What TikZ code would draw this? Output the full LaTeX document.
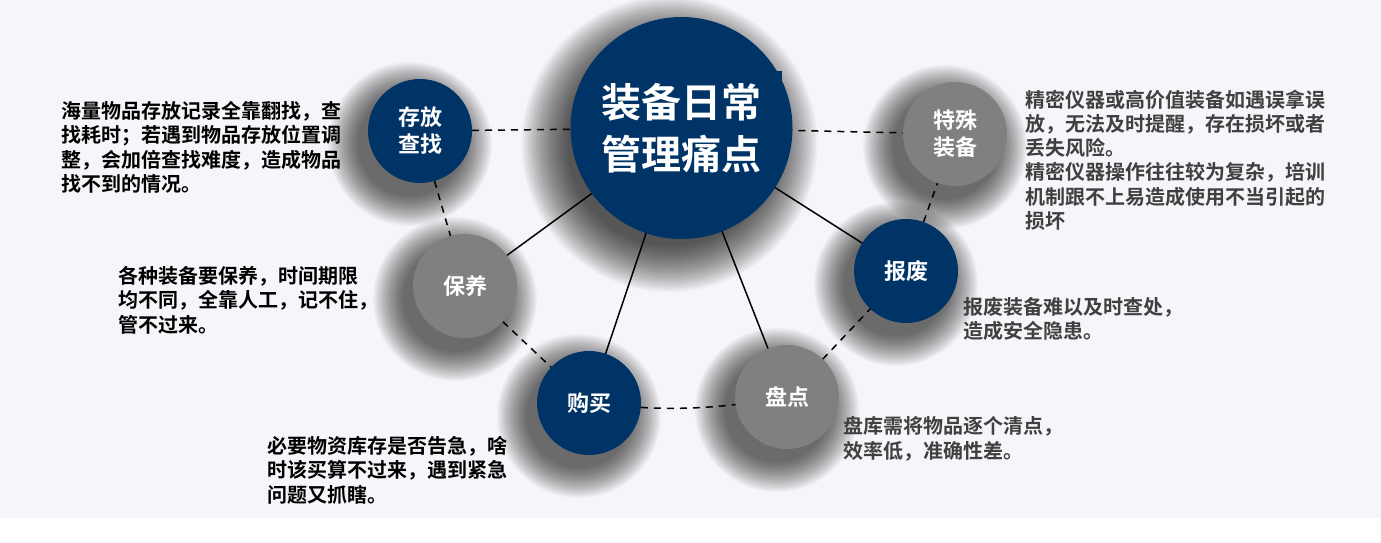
\documentclass[tikz,border=0pt]{standalone}
\usepackage{fontspec}
\newfontfamily\cjk{Noto Sans CJK SC}[BoldFont={Noto Sans CJK SC Bold}]
\usetikzlibrary{calc}
\definecolor{navy}{RGB}{0,52,102}
\definecolor{cgray}{RGB}{128,128,128}
\definecolor{bgc}{RGB}{246,246,250}
\definecolor{txtgray}{RGB}{64,64,64}
\pgfdeclarelayer{shadowlayer}
\pgfdeclarelayer{edgelayer}
\pgfsetlayers{shadowlayer,edgelayer,main}
\tikzset{
  bigc/.style={circle, fill=navy, minimum size=222pt, inner sep=0pt, text=white,
    font=\cjk\bfseries\fontsize{40}{52}\selectfont, align=center},
  navyc/.style={circle, fill=navy, minimum size=104pt, inner sep=0pt, text=white,
    font=\cjk\bfseries\fontsize{22}{27}\selectfont, align=center},
  grayc/.style={navyc, fill=cgray},
  desc/.style={anchor=base west, inner sep=0pt, align=left,
    font=\cjk\bfseries\fontsize{20}{24.3}\selectfont},
  solidc/.style={black, line width=1.5pt},
  dashc/.style={black, line width=1.5pt, dash pattern=on 7pt off 6pt},
  shadowc/.style={black, opacity=0.032},
}
\begin{document}
\begin{tikzpicture}[x=1pt,y=-1pt]
\useasboundingbox (0,0) rectangle (1381,542);
% circles
\fill[navy] (775,71) rectangle (782,92);
\node[bigc] (hub) at (681.5,128) {装备日常\\管理痛点};
\node[navyc] (cf) at (420,131) {存放\\查找};
\node[grayc] (ts) at (955,134) {特殊\\装备};
\node[grayc] (by) at (465,286) {保养};
\node[navyc] (gm) at (589,403) {购买};
\node[grayc] (pd) at (787,397) {盘点};
\node[navyc] (bf) at (906,271) {报废};
% background and shadows
\begin{pgfonlayer}{shadowlayer}
\fill[white] (0,0) rectangle (1381,542);
\fill[bgc] (0,0) rectangle (1381,518);
\foreach \k in {0,...,29}{
  \fill[shadowc] ($(hub.center)+(-12,16)$) circle ({148pt-1.6pt*\k});
}
\foreach \n in {cf,ts,by,gm,pd,bf}{
  \foreach \k in {0,...,23}{
    \fill[shadowc] ($(\n.center)+(-10,13)$) circle ({82pt-1.3pt*\k});
  }
}
\end{pgfonlayer}
% connectors
\begin{pgfonlayer}{edgelayer}
\draw[solidc] (hub.center) -- (by.center);
\draw[solidc] (hub.center) -- (gm.center);
\draw[solidc] (hub.center) -- (pd.center);
\draw[solidc] (hub.center) -- (bf.center);
\draw[dashc] (cf.center) -- (hub.center);
\draw[dashc] (hub.center) -- (ts.center);
\draw[dashc] (cf.center) -- (by.center);
\draw[dashc] (by.center) -- (gm.center);
\draw[dashc] (gm.center) to[bend right=8] (pd.center);
\draw[dashc] (pd.center) -- (bf.center);
\draw[dashc] (bf.center) -- (ts.center);
\end{pgfonlayer}
% descriptions (anchor = baseline of the last line)
\node[desc] (t1) at (61,191.5) {海量物品存放记录全靠翻找，查\\找耗时；若遇到物品存放位置调\\整，会加倍查找难度，造成物品\\找不到的情况。};
\node[desc, text=txtgray] (t2) at (1025,228.5) {精密仪器或高价值装备如遇误拿误\\放，无法及时提醒，存在损坏或者\\丢失风险。\\精密仪器操作往往较为复杂，培训\\机制跟不上易造成使用不当引起的\\损坏};
\node[desc] (t3) at (118,332) {各种装备要保养，时间期限\\均不同，全靠人工，记不住，\\管不过来。};
\node[desc, text=txtgray] (t4) at (963,338.5) {报废装备难以及时查处，\\造成安全隐患。};
\node[desc, text=txtgray] (t5) at (843,458) {盘库需将物品逐个清点，\\效率低，准确性差。};
\node[desc] (t6) at (267,502) {必要物资库存是否告急，啥\\时该买算不过来，遇到紧急\\问题又抓瞎。};
\end{tikzpicture}
\end{document}
